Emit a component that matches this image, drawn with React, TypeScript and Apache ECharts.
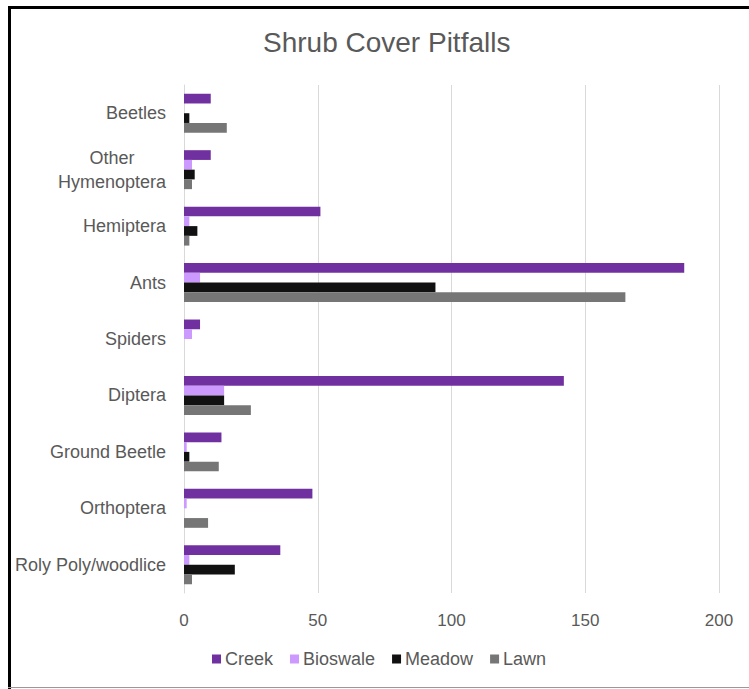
import React, { useEffect, useRef } from "react";
import * as echarts from "echarts";

const categories = [
  "Beetles",
  "Other Hymenoptera",
  "Hemiptera",
  "Ants",
  "Spiders",
  "Diptera",
  "Ground Beetle",
  "Orthoptera",
  "Roly Poly/woodlice",
];
const creek = [10, 10, 51, 187, 6, 142, 14, 48, 36];
const bioswale = [0, 3, 2, 6, 3, 15, 1, 1, 2];
const meadow = [2, 4, 5, 94, 0, 15, 2, 0, 19];
const lawn = [16, 3, 2, 165, 0, 25, 13, 9, 3];
const xTicks = { min: 0, max: 200, interval: 50 };

const FONT = "'Liberation Sans', Arial, sans-serif";
const TEXT = "#595959";

export default function App() {
  const ref = useRef<HTMLDivElement>(null);

  useEffect(() => {
    if (!ref.current) return;
    const chart = echarts.init(ref.current, undefined, { renderer: "svg" });
    const mk = (name: string, data: number[], color: string) => ({
      name,
      type: "bar" as const,
      data,
      barGap: "0%",
      barCategoryGap: "31%",
      itemStyle: { color },
    });
    chart.setOption({
      animation: false,
      backgroundColor: "#ffffff",
      textStyle: { fontFamily: FONT },
      title: {
        text: "Shrub Cover Pitfalls",
        left: 258,
        top: 23,
        textStyle: { fontSize: 28, fontWeight: "normal", color: TEXT, fontFamily: FONT },
      },
      legend: {
        left: 207,
        top: 645,
        itemWidth: 9,
        itemHeight: 9,
        itemGap: 17,
        icon: "rect",
        textStyle: { fontSize: 18, color: TEXT, fontFamily: FONT, padding: [0, 0, 0, -1] },
        data: ["Creek", "Bioswale", "Meadow", "Lawn"],
      },
      grid: { left: 184, right: 30, top: 85, bottom: 96, containLabel: false },
      xAxis: {
        type: "value",
        min: xTicks.min,
        max: xTicks.max,
        interval: xTicks.interval,
        axisLine: { show: false },
        axisTick: { show: false },
        splitLine: { lineStyle: { color: "#d9d9d9", width: 1 } },
        axisLabel: { color: TEXT, fontSize: 17, margin: 19, fontFamily: FONT },
      },
      yAxis: {
        type: "category",
        inverse: true,
        data: categories,
        axisLine: { show: true, lineStyle: { color: "#d9d9d9" } },
        axisTick: { show: false },
        axisLabel: {
          color: TEXT,
          fontSize: 18,
          margin: 18,
          fontFamily: FONT,
          lineHeight: 24,
          formatter: (v: string) =>
            v === "Other Hymenoptera" ? "{c|Other}\n{c|Hymenoptera}" : v,
          rich: {
            c: { align: "center", color: TEXT, fontSize: 18, fontFamily: FONT, lineHeight: 24 },
          },
        },
      },
      series: [
        mk("Creek", creek, "#7030a0"),
        mk("Bioswale", bioswale, "#cc99ff"),
        mk("Meadow", meadow, "#111111"),
        mk("Lawn", lawn, "#767676"),
      ],
    });
    return () => chart.dispose();
  }, []);

  return (
    <div style={{ position: "absolute", left: 0, top: 0, width: 749, height: 689, background: "#fff" }}>
      <div ref={ref} style={{ position: "absolute", left: 0, top: 0, width: 749, height: 689 }} />
      <div style={{ position: "absolute", left: 8, top: 6, width: 741, height: 3, background: "#000" }} />
      <div style={{ position: "absolute", left: 8, top: 6, width: 3, height: 683, background: "#000" }} />
      <div style={{ position: "absolute", left: 8, top: 687, width: 741, height: 1, background: "#999" }} />
    </div>
  );
}
